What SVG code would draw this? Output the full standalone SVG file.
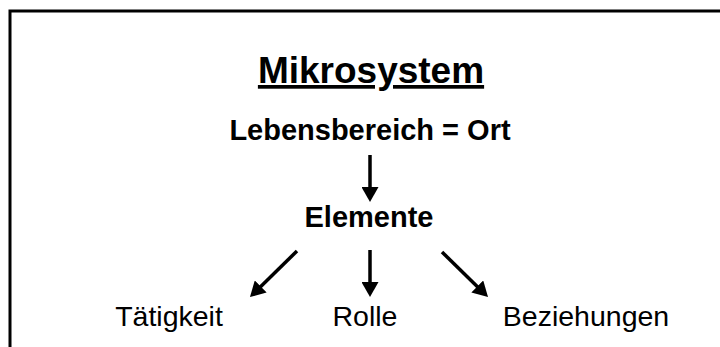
<svg xmlns="http://www.w3.org/2000/svg" width="720" height="347" viewBox="0 0 720 347">
<style>
.b{font-family:"Liberation Sans",Arial,sans-serif;font-weight:bold;fill:#000;text-anchor:middle}
.r{font-family:"Liberation Sans",Arial,sans-serif;fill:#000;text-anchor:middle;font-size:28.5px}
.c{stroke:#000;stroke-width:3.5;fill:none}
</style>
<defs>
<marker id="ah" markerUnits="userSpaceOnUse" markerWidth="17" markerHeight="17" refX="7" refY="8.5" orient="auto" viewBox="0 0 17 17">
<path d="M0,0 L15,8.5 L0,17 z" fill="#000"/>
</marker>
</defs>
<rect x="10" y="11" width="740" height="400" fill="none" stroke="#000" stroke-width="3"/>
<g id="title"><text class="b" x="371" y="83" font-size="37" text-decoration="underline">Mikrosystem</text></g>
<g id="lebensbereich"><text class="b" x="370" y="140" font-size="29">Lebensbereich = Ort</text></g>
<g id="elemente"><text class="b" x="369" y="227" font-size="29">Elemente</text></g>
<g id="taetigkeit"><text class="r" x="169" y="326">Tätigkeit</text></g>
<g id="rolle"><text class="r" x="365" y="326">Rolle</text></g>
<g id="beziehungen"><text class="r" x="586" y="326">Beziehungen</text></g>
<g id="connectors">
<line class="c" x1="370" y1="155" x2="370" y2="194" marker-end="url(#ah)"/>
<line class="c" x1="297" y1="251" x2="255.7" y2="291.4" marker-end="url(#ah)"/>
<line class="c" x1="370" y1="250" x2="370" y2="289" marker-end="url(#ah)"/>
<line class="c" x1="442" y1="252" x2="482.3" y2="291.4" marker-end="url(#ah)"/>
</g>
</svg>
